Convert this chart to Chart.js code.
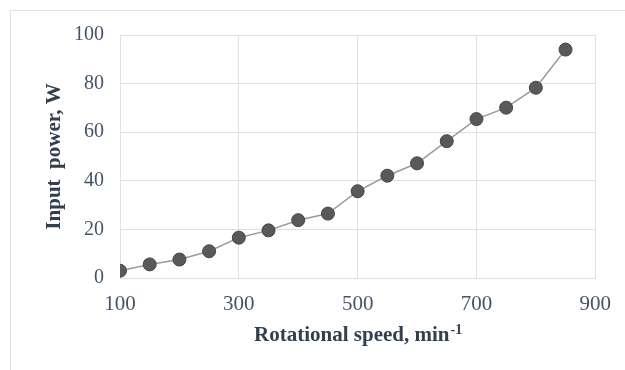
<!DOCTYPE html>
<html>
<head>
<meta charset="utf-8">
<script src="https://cdn.jsdelivr.net/npm/chart.js@4/dist/chart.umd.min.js"></script>
<style>
html,body{margin:0;padding:0;background:#fff;}
#c{display:block;}
</style>
</head>
<body>
<canvas id="c" width="625" height="370"></canvas>
<script>
const speeds = [100,150,200,250,300,350,400,450,500,550,600,650,700,750,800,850];
const power = [3.0,5.6,7.6,11.0,16.6,19.6,23.8,26.5,35.7,42.1,47.2,56.3,65.4,70.1,78.3,94.0];
const xTitle = "Rotational speed, min";
const xTitleSup = "-1";
const yTitle = "Input  power, W";

const titleColor = '#323f4f';
const tickColor = '#44546a';
const gridColor = '#d9e1ea';

const decor = {
  id: 'decor',
  beforeDraw(chart) {
    const ctx = chart.ctx;
    ctx.save();
    ctx.fillStyle = '#fff';
    ctx.fillRect(0,0,chart.width,chart.height);
    ctx.strokeStyle = '#dfe3e8';
    ctx.lineWidth = 1;
    ctx.strokeRect(10.5, 10.5, 700, 420);
    ctx.restore();
  },
  afterDraw(chart) {
    const ctx = chart.ctx;
    const a = chart.chartArea;
    ctx.save();
    ctx.fillStyle = titleColor;
    // x title with superscript
    const mainFont = 'bold 21px "Liberation Serif"';
    const supFont = 'bold 14px "Liberation Serif"';
    ctx.font = mainFont;
    const w1 = ctx.measureText(xTitle).width;
    ctx.font = supFont;
    const w2 = ctx.measureText(xTitleSup).width;
    const cx = (a.left + a.right) / 2;
    const x0 = cx - (w1 + w2) / 2;
    ctx.textBaseline = 'alphabetic';
    ctx.textAlign = 'left';
    ctx.font = mainFont;
    ctx.fillText(xTitle, x0, 341);
    ctx.font = supFont;
    ctx.fillText(xTitleSup, x0 + w1 + 1, 334);
    // y title
    ctx.translate(55, (a.top + a.bottom) / 2);
    ctx.rotate(-Math.PI / 2);
    ctx.font = mainFont;
    ctx.textAlign = 'center';
    ctx.textBaseline = 'middle';
    ctx.fillText(yTitle, 0, 0);
    ctx.restore();
  }
};

new Chart(document.getElementById('c'), {
  type: 'line',
  data: {
    datasets: [{
      data: speeds.map((s, i) => ({x: s, y: power[i]})),
      borderColor: '#9a9a9a',
      borderWidth: 1.5,
      pointRadius: 6.5,
      pointBackgroundColor: '#595959',
      pointBorderColor: '#454545',
      pointBorderWidth: 1,
      tension: 0
    }]
  },
  options: {
    responsive: false,
    animation: false,
    layout: {padding: {top: 35, right: 29, left: 0, bottom: 0}},
    plugins: {legend: {display: false}, tooltip: {enabled: false}},
    scales: {
      x: {
        type: 'linear',
        min: 100, max: 900,
        ticks: {stepSize: 200, color: tickColor, font: {family: '"Liberation Serif"', size: 21}, padding: 14},
        grid: {color: gridColor, drawTicks: false, lineWidth: 1},
        border: {color: gridColor},
        afterFit(s) { s.height = 92; }
      },
      y: {
        min: 0, max: 100,
        ticks: {stepSize: 20, color: tickColor, font: {family: '"Liberation Serif"', size: 20}, padding: 16},
        grid: {color: gridColor, drawTicks: false, lineWidth: 1},
        border: {color: gridColor},
        afterFit(s) { s.width = 120; }
      }
    }
  },
  plugins: [decor]
});
</script>
</body>
</html>
